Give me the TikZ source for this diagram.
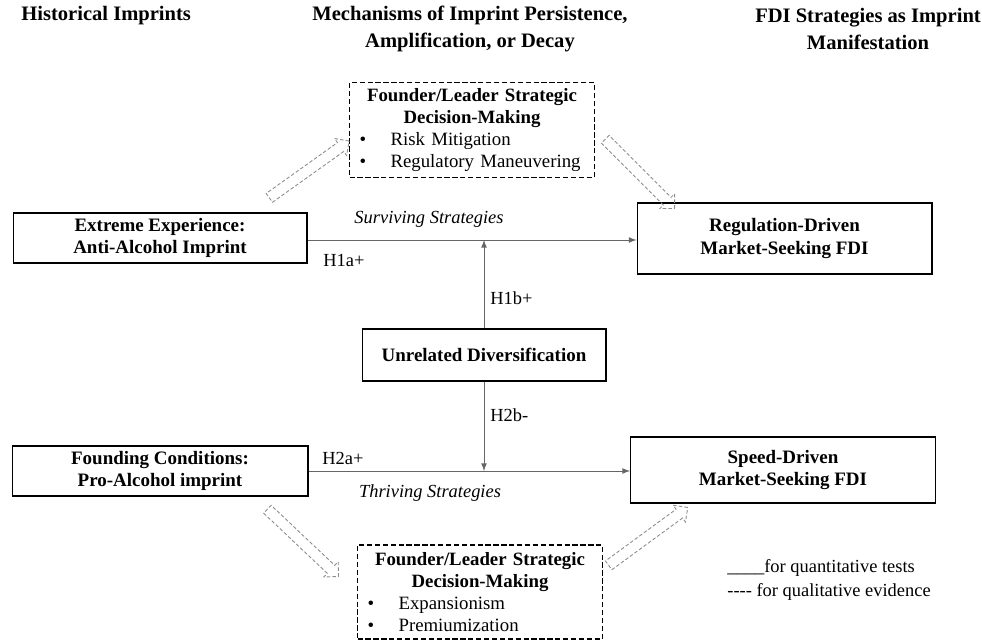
\documentclass[tikz,border=0pt]{standalone}
\usepackage{fontspec}
\setmainfont{Liberation Serif}
\usepackage{tikz}
\usetikzlibrary{arrows,positioning}
\usetikzlibrary{shapes.arrows}

\begin{document}
\begin{tikzpicture}[x=0.02cm,y=-0.02cm,
  head/.style={font=\fontsize{11.7}{15.3}\selectfont\bfseries,align=center,inner sep=0pt},
  solidbox/.style={draw,line width=0.6pt,font=\fontsize{10.8}{13}\selectfont\bfseries,align=center,inner sep=0pt},
  dashbox/.style={draw,line width=0.7pt,dash pattern=on 3pt off 1.5pt,font=\fontsize{10.7}{12.5}\selectfont,text width=4.5cm,inner xsep=0.2cm,minimum height=1.88cm},
  conn/.style={draw=black!60,line width=0.5pt,-latex},
  lbl/.style={font=\fontsize{10.5}{12}\selectfont,anchor=west,inner sep=0pt},
  fatarrow/.style={single arrow,draw=black!45,dash pattern=on 2pt off 1.2pt,line width=0.5pt,minimum height=1.96cm,inner sep=0.1cm,single arrow head extend=0.1cm}]
\useasboundingbox (0,0) rectangle (982,644);

\node[head,anchor=west] (hist) at (21,16) {Historical Imprints};
\node[head] (mech) at (470,29) {Mechanisms of Imprint Persistence,\\Amplification, or Decay};
\node[head] (fdi) at (868,29) {FDI Strategies as Imprint\\Manifestation};

\node[dashbox] (lead1) at (472,130) {\centering\textbf{Founder/Leader Strategic}\\\textbf{Decision-Making}\par\raggedright\textbullet\hspace{1.3em}Risk Mitigation\\\textbullet\hspace{1.3em}Regulatory Maneuvering};
\node[dashbox] (lead2) at (480,592) {\centering\textbf{Founder/Leader Strategic}\\\textbf{Decision-Making}\par\raggedright\textbullet\hspace{1.3em}Expansionism\\\textbullet\hspace{1.3em}Premiumization};

\node[solidbox,minimum width=5.88cm,minimum height=1cm] (extreme) at (160,238) {Extreme Experience:\\Anti-Alcohol Imprint};
\node[solidbox,minimum width=5.9cm,minimum height=1.42cm] (regdrv) at (784.5,238.5) {Regulation-Driven\\Market-Seeking FDI};
\node[solidbox,minimum width=4.88cm,minimum height=1.04cm] (unrel) at (484,355) {Unrelated Diversification};
\node[solidbox,minimum width=5.92cm,minimum height=1cm] (found) at (160,471) {Founding Conditions:\\Pro-Alcohol imprint};
\node[solidbox,minimum width=6.1cm,minimum height=1.32cm] (speed) at (783,470) {Speed-Driven\\Market-Seeking FDI};

\draw[conn] (extreme.east |- 0,240) -- (regdrv.west |- 0,240);
\draw[conn] (unrel.north) -- (unrel.north |- 0,240);
\draw[conn] (found.east |- 0,471) -- (speed.west |- 0,471);
\draw[conn] (unrel.south) -- (unrel.south |- 0,471);

\node[lbl,anchor=center,font=\fontsize{10.5}{12}\selectfont\itshape] (surv) at (429,219) {Surviving Strategies};
\node[lbl] (h1a) at (323,261) {H1a+};
\node[lbl] (h1b) at (490,298) {H1b+};
\node[lbl] (h2b) at (490,415) {H2b-};
\node[lbl] (h2a) at (322,458) {H2a+};
\node[lbl,anchor=center,font=\fontsize{10.5}{12}\selectfont\itshape] (thrive) at (430,493) {Thriving Strategies};

\node[fatarrow,rotate=35.5] (fa1) at (307,171) {};
\node[fatarrow,rotate=-45] (fa2) at (638,172) {};
\node[fatarrow,rotate=-43.4] (fa3) at (301,541) {};
\node[fatarrow,rotate=36.2] (fa4) at (646,538) {};

\node[lbl] (leg1) at (727,568) {\_\_\_\_for quantitative tests};
\node[lbl] (leg2) at (727,592) {-\kern0pt-\kern0pt-\kern0pt- for qualitative evidence};
\end{tikzpicture}
\end{document}
